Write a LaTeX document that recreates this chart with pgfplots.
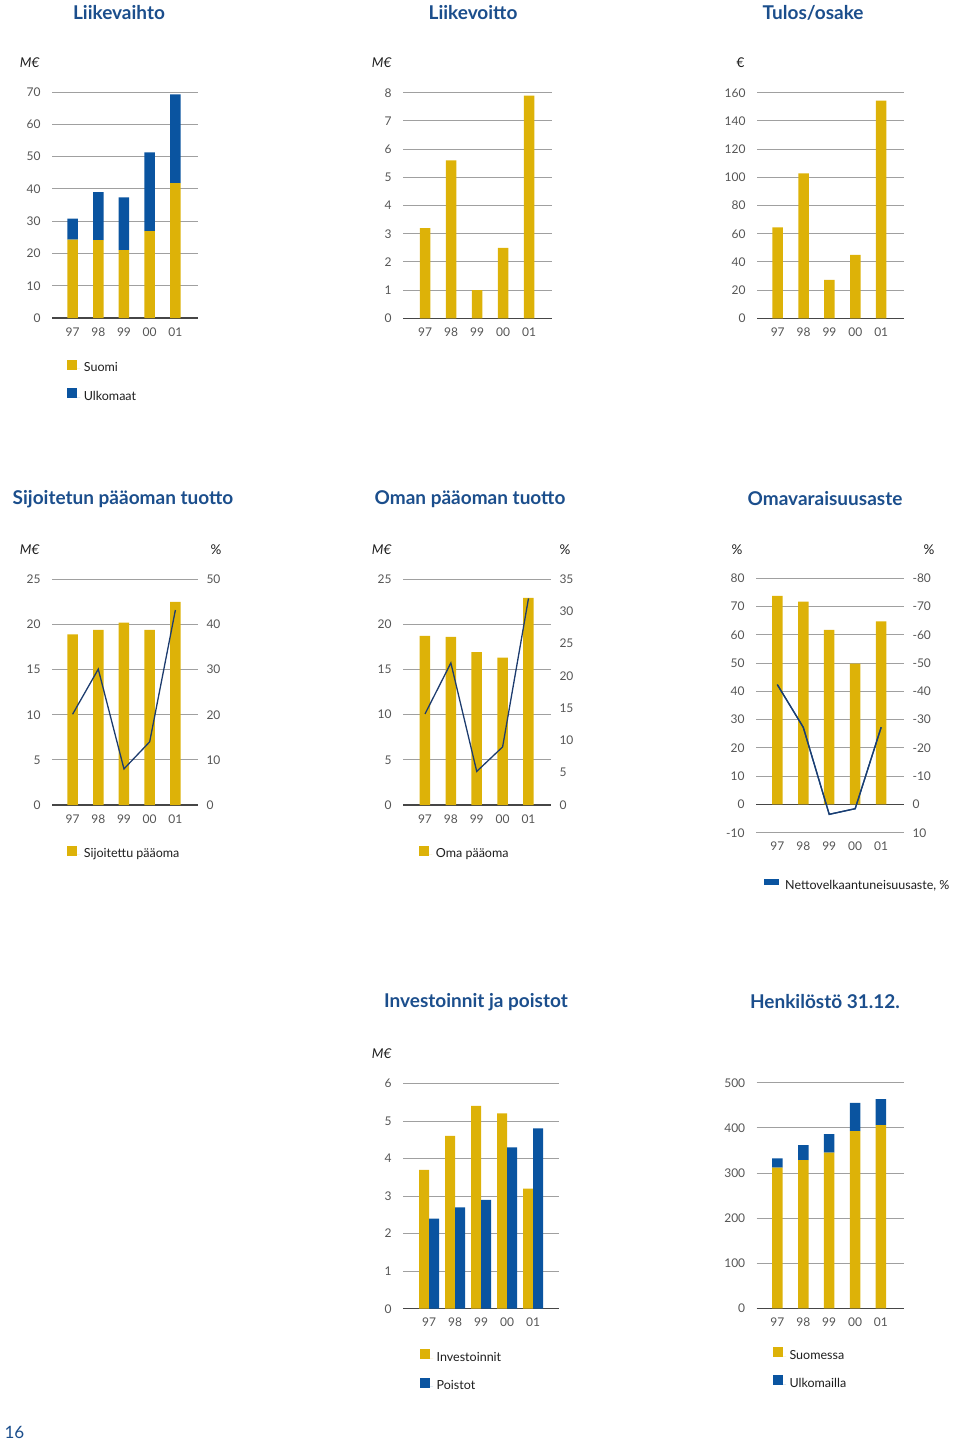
\documentclass[border=0pt]{standalone}
\usepackage{pgfplots}
\pgfplotsset{compat=1.18}
\usepackage{fontspec}
\setmainfont{Lato}
\definecolor{gold}{RGB}{221,178,8}
\definecolor{blu}{RGB}{10,84,160}
\definecolor{navy}{RGB}{29,60,110}
\definecolor{titleblue}{RGB}{27,78,140}
\definecolor{gridgray}{RGB}{160,160,160}
\definecolor{basegray}{RGB}{70,70,70}
\definecolor{tickgray}{RGB}{85,85,85}
\definecolor{legtext}{RGB}{30,30,30}
\newcommand\tickf{\fontsize{12}{14}\selectfont}
\newcommand\unitf{\fontsize{13.5}{16}\selectfont}
\newcommand\legf{\fontsize{12.5}{15}\selectfont}
\newcommand\titf{\bfseries\fontsize{19}{22}\selectfont}
\pgfplotsset{
 base/.style={
  scale only axis, anchor=south west, clip=false, enlargelimits=false,
  axis line style={draw=none}, major tick length=0pt,
  tick label style={font=\tickf, text=tickgray},
  /pgf/number format/assume math mode=true,
  ymajorgrids, grid style={gridgray, line width=0.9pt},
  extra y ticks={0}, extra y tick style={grid style={basegray, line width=1.3pt}},
  xtick={0,...,4}, xticklabels={97,98,99,00,01},
  xticklabel style={yshift=-6pt},
  yticklabel style={xshift=-8pt},
  xmin=-0.8, xmax=4.88,
  legend style={draw=none, fill=none, inner sep=0pt, font=\legf, text=legtext,
    cells={anchor=west}, row sep=13pt, anchor=north west,
    nodes={inner xsep=3.5pt, inner ysep=0pt, text height=9pt, text depth=3pt}},
 },
 sqleg/.style={legend image code/.code={\fill[##1] (0pt,-0.7pt) rectangle (10pt,9.3pt); \path[draw=none] (0pt,0pt) -- (13pt,0pt);}},
 rightax/.style={
  scale only axis, anchor=south west, clip=false, enlargelimits=false,
  axis x line=none, axis y line*=right, axis line style={draw=none},
  major tick length=0pt,
  tick label style={font=\tickf, text=tickgray},
  /pgf/number format/assume math mode=true,
  yticklabel style={anchor=west, xshift=5pt},
  xmin=-0.8, xmax=4.88,
 },
}
\begin{document}
\begin{tikzpicture}
\path[use as bounding box] (0pt,0pt) rectangle (960pt,-1444pt);

% ---------- titles ----------
\node[font=\titf, text=titleblue] at (119pt,-13pt) {Liikevaihto};
\node[font=\titf, text=titleblue] at (473pt,-13pt) {Liikevoitto};
\node[font=\titf, text=titleblue] at (813pt,-13pt) {Tulos/osake};
\node[font=\titf, text=titleblue] at (123pt,-499pt) {Sijoitetun pääoman tuotto};
\node[font=\titf, text=titleblue] at (470pt,-499pt) {Oman pääoman tuotto};
\node[font=\titf, text=titleblue] at (825pt,-499pt) {Omavaraisuusaste};
\node[font=\titf, text=titleblue] at (476pt,-1002pt) {Investoinnit ja poistot};
\node[font=\titf, text=titleblue] at (825pt,-1002pt) {Henkilöstö 31.12.};
\node[anchor=west, text=titleblue, font=\fontsize{17}{20}\selectfont] at (1pt,-1432pt) {16};

% ---------- unit labels ----------
\node[anchor=east, font=\unitf\itshape, text=legtext] at (43pt,-63pt) {M€};
\node[anchor=east, font=\unitf\itshape, text=legtext] at (395pt,-63pt) {M€};
\node[anchor=east, font=\unitf, text=legtext] at (748pt,-63pt) {€};
\node[anchor=east, font=\unitf\itshape, text=legtext] at (43pt,-550pt) {M€};
\node[anchor=west, font=\unitf, text=legtext] at (207pt,-550pt) {\%};
\node[anchor=east, font=\unitf\itshape, text=legtext] at (395pt,-550pt) {M€};
\node[anchor=west, font=\unitf, text=legtext] at (556pt,-550pt) {\%};
\node[anchor=east, font=\unitf, text=legtext] at (746pt,-550pt) {\%};
\node[anchor=west, font=\unitf, text=legtext] at (920pt,-550pt) {\%};
\node[anchor=east, font=\unitf\itshape, text=legtext] at (395pt,-1054pt) {M€};

% ---------- 1 Liikevaihto ----------
\begin{axis}[base, at={(52pt,-318pt)}, width=146pt, height=226pt,
  ymin=0, ymax=70, ytick={10,20,...,70},
  ybar stacked, bar width=10.5pt, sqleg,
  legend style={at={(0.104,-0.183)}}]
\addplot[fill=gold, draw=none] coordinates {(0,24.3) (1,24.1) (2,21.0) (3,26.9) (4,41.8)};
\addplot[fill=blu, draw=none] coordinates {(0,6.5) (1,14.9) (2,16.4) (3,24.4) (4,27.5)};
\legend{Suomi, Ulkomaat}
\end{axis}

% ---------- 2 Liikevoitto ----------
\begin{axis}[base, at={(403pt,-318.3pt)}, width=149pt, height=225.6pt,
  ymin=0, ymax=8, ytick={1,2,...,8}, xmin=-0.85, xmax=4.88,
  ybar, bar width=10.5pt]
\addplot[fill=gold, draw=none] coordinates {(0,3.2) (1,5.6) (2,1.0) (3,2.5) (4,7.9)};
\end{axis}

% ---------- 3 Tulos/osake ----------
\begin{axis}[base, at={(757pt,-318.3pt)}, width=147pt, height=225.6pt,
  ymin=0, ymax=160, ytick={20,40,...,160},
  ybar, bar width=10.5pt]
\addplot[fill=gold, draw=none] coordinates {(0,64.5) (1,102.8) (2,27.2) (3,44.9) (4,154.3)};
\end{axis}

% ---------- 4 Sijoitetun paaoman tuotto ----------
\begin{axis}[base, at={(52pt,-805pt)}, width=146pt, height=225.7pt,
  ymin=0, ymax=25, ytick={5,10,...,25},
  ybar, bar width=10.5pt, sqleg,
  legend style={at={(0.104,-0.179)}}]
\addplot[fill=gold, draw=none] coordinates {(0,18.9) (1,19.4) (2,20.2) (3,19.4) (4,22.5)};
\legend{Sijoitettu pääoma}
\end{axis}
\begin{axis}[rightax, at={(52pt,-805pt)}, width=146pt, height=225.7pt,
  ymin=0, ymax=50, ytick={0,10,...,50}]
\addplot[navy, line width=1.3pt] coordinates {(0,20.1) (1,30.1) (2,8.0) (3,14.0) (4,43.2)};
\end{axis}

% ---------- 5 Oman paaoman tuotto ----------
\begin{axis}[base, at={(403pt,-805pt)}, width=148pt, height=226pt,
  ymin=0, ymax=25, ytick={5,10,...,25}, xmin=-0.85, xmax=4.87,
  ybar, bar width=10.5pt, sqleg,
  legend style={at={(0.11,-0.179)}}]
\addplot[fill=gold, draw=none] coordinates {(0,18.7) (1,18.6) (2,16.9) (3,16.3) (4,22.9)};
\legend{Oma pääoma}
\end{axis}
\begin{axis}[rightax, at={(403pt,-805pt)}, width=148pt, height=226pt,
  xmin=-0.85, xmax=4.87,
  ymin=0, ymax=35, ytick={0,5,...,35}]
\addplot[navy, line width=1.3pt] coordinates {(0,14.1) (1,22.0) (2,5.2) (3,9.0) (4,32.0)};
\end{axis}

% ---------- 6 Omavaraisuusaste ----------
\begin{axis}[base, at={(756pt,-832.7pt)}, width=148pt, height=254.4pt,
  ymin=-10, ymax=80, ytick={-10,10,20,...,80}, xmin=-0.82,
  ybar, bar width=10.5pt]
\addplot[fill=gold, draw=none] coordinates {(0,73.8) (1,71.8) (2,61.8) (3,49.8) (4,64.8)};
\end{axis}
\begin{axis}[rightax, at={(756pt,-832.7pt)}, width=148pt, height=254.4pt,
  xmin=-0.82, y dir=reverse,
  ymin=-80, ymax=10, ytick={-80,-70,...,10},
  legend style={draw=none, fill=none, inner sep=0pt, font=\legf, text=legtext,
    cells={anchor=west}, anchor=north west, at={(0.056,-0.181)},
    nodes={inner xsep=4pt, inner ysep=0pt, text height=9pt, text depth=3pt}},
  legend image code/.code={\fill[blu] (0pt,2.1pt) rectangle (13pt,6.5pt); \path[draw=none] (0pt,0pt) -- (16pt,0pt);}]
\addplot[blu, line width=1.3pt] coordinates {(0,-42.4) (1,-27.3) (2,3.5) (3,1.5) (4,-27.3)};
\addlegendentry{Nettovelkaantuneisuusaste, \%}
\end{axis}
\begin{axis}[rightax, at={(756pt,-832.7pt)}, width=148pt, height=254.4pt,
  xmin=-0.82, y dir=reverse, ymin=-80, ymax=10, ytick=\empty, axis y line=none]
\addplot[navy, line width=1.3pt] coordinates {(0,-42.4) (1,-27.3) (2,3.5) (3,1.5) (4,-27.3)};
\end{axis}

% ---------- 7 Investoinnit ja poistot ----------
\begin{axis}[base, at={(403pt,-1308.7pt)}, width=156pt, height=225.3pt,
  ymin=0, ymax=6, ytick={1,2,...,6}, xmin=-1, xmax=5,
  ybar=0pt, bar width=10pt, sqleg,
  legend style={at={(0.109,-0.179)}}]
\addplot[fill=gold, draw=none] coordinates {(0,3.7) (1,4.6) (2,5.4) (3,5.2) (4,3.2)};
\addplot[fill=blu, draw=none] coordinates {(0,2.4) (1,2.7) (2,2.9) (3,4.3) (4,4.8)};
\legend{Investoinnit, Poistot}
\end{axis}

% ---------- 8 Henkilosto ----------
\begin{axis}[base, at={(756.7pt,-1308.3pt)}, width=147pt, height=225.6pt,
  ymin=0, ymax=500, ytick={100,200,...,500},
  ybar stacked, bar width=10.5pt, sqleg,
  legend style={at={(0.11,-0.170)}}]
\addplot[fill=gold, draw=none] coordinates {(0,311.6) (1,328.6) (2,344.8) (3,392.9) (4,406.2)};
\addplot[fill=blu, draw=none] coordinates {(0,20.8) (1,33.3) (2,41.4) (3,62.7) (4,57.6)};
\legend{Suomessa, Ulkomailla}
\end{axis}
\end{tikzpicture}
\end{document}
